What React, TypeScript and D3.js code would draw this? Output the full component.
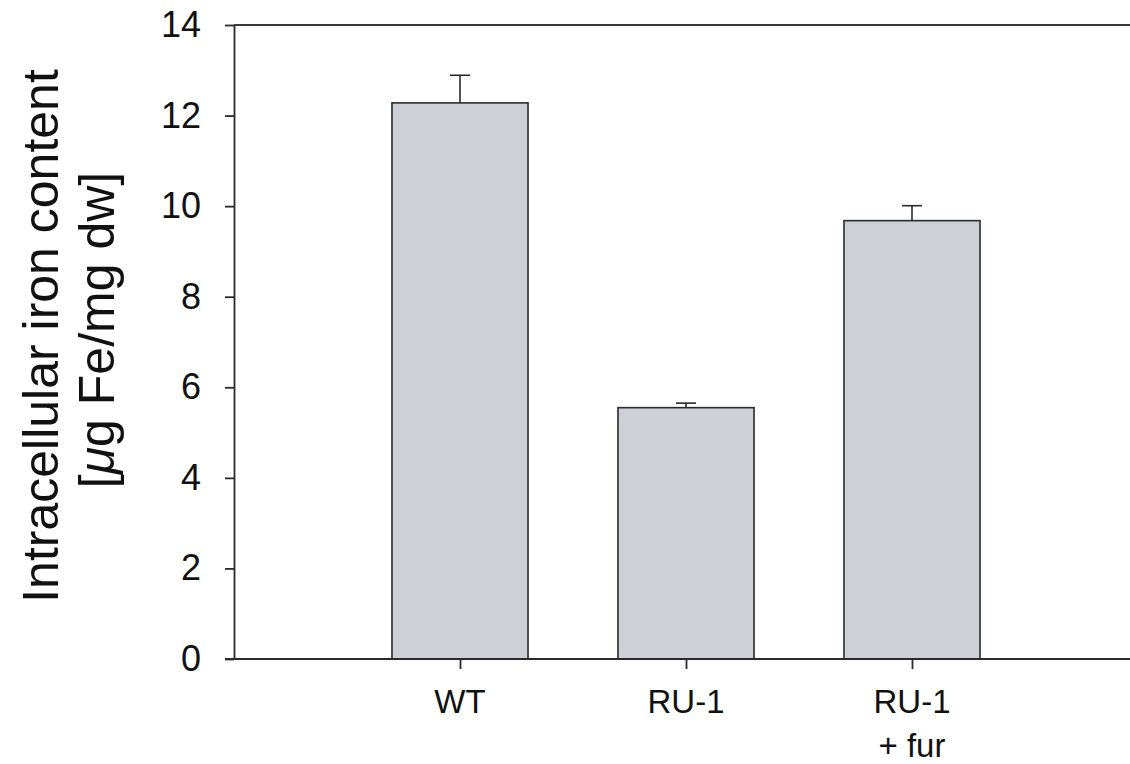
import React, { useEffect, useRef } from "react";
import * as d3 from "d3";

const categories = ["WT", "RU-1", "RU-1 + fur"];
const tickLabels = [["WT"], ["RU-1"], ["RU-1", "+ fur"]];
const values = [12.28, 5.55, 9.68];
const errors = [0.61, 0.1, 0.33];
const yTicks = [0, 2, 4, 6, 8, 10, 12, 14];

const font = "'Liberation Sans', Arial, Helvetica, sans-serif";

const App = () => {
  const svgRef = useRef<SVGSVGElement>(null);

  useEffect(() => {
    const svg = d3.select(svgRef.current);
    svg.selectAll("*").remove();

    const width = 1130, height = 764;
    const left = 234, right = 1138, top = 25, bottom = 659;

    const x = d3.scalePoint<string>()
      .domain(categories)
      .range([left, right])
      .padding(1);
    const barW = x.step() * 0.602;

    const y = d3.scaleLinear().domain([0, 14]).range([bottom, top]);

    const data = categories.map((c, i) => ({ c, v: values[i], e: errors[i], lab: tickLabels[i] }));

    // bars
    svg.append("g")
      .selectAll("rect")
      .data(data)
      .join("rect")
      .attr("x", d => x(d.c)! - barW / 2)
      .attr("y", d => y(d.v))
      .attr("width", barW)
      .attr("height", d => y(0) - y(d.v))
      .attr("fill", "#cdd0d4")
      .attr("stroke", "#2a2a2a")
      .attr("stroke-width", 1.6);

    // error bars (upper only)
    const eb = svg.append("g").attr("stroke", "#2a2a2a").attr("stroke-width", 1.6);
    eb.selectAll("line.w")
      .data(data)
      .join("line")
      .attr("class", "w")
      .attr("x1", d => x(d.c)!)
      .attr("x2", d => x(d.c)!)
      .attr("y1", d => y(d.v))
      .attr("y2", d => y(d.v + d.e));
    eb.selectAll("line.cap")
      .data(data)
      .join("line")
      .attr("class", "cap")
      .attr("x1", d => x(d.c)! - 10)
      .attr("x2", d => x(d.c)! + 10)
      .attr("y1", d => y(d.v + d.e))
      .attr("y2", d => y(d.v + d.e));

    // top frame line
    svg.append("line")
      .attr("x1", left).attr("x2", width)
      .attr("y1", y(14)).attr("y2", y(14))
      .attr("stroke", "#3a3a3a")
      .attr("stroke-width", 2.2);

    // y axis
    const gy = svg.append("g")
      .attr("transform", `translate(${left},0)`)
      .call(d3.axisLeft(y).tickValues(yTicks).tickSize(9).tickSizeOuter(0).tickPadding(24));
    gy.selectAll("path, line").attr("stroke", "#2a2a2a").attr("stroke-width", 1.8);
    gy.selectAll("text")
      .attr("font-family", font)
      .attr("font-size", 36)
      .attr("fill", "#111");

    // x axis
    const gx = svg.append("g")
      .attr("transform", `translate(0,${bottom})`)
      .call(d3.axisBottom(x).tickSize(10).tickSizeOuter(0).tickFormat(() => ""));
    gx.select(".domain").attr("d", `M${left - 9},0H${width}`);
    gx.selectAll("path, line").attr("stroke", "#2a2a2a").attr("stroke-width", 1.8);

    svg.append("g")
      .selectAll("text")
      .data(data)
      .join("text")
      .attr("text-anchor", "middle")
      .attr("font-family", font)
      .attr("font-size", 33)
      .attr("fill", "#111")
      .selectAll("tspan")
      .data(d => d.lab.map(l => ({ l, cx: x(d.c)! })))
      .join("tspan")
      .attr("x", d => d.cx)
      .attr("y", (d, i) => 713 + i * 44)
      .text(d => d.l);

    // y label
    const yl = svg.append("g")
      .attr("font-family", font)
      .attr("font-size", 50)
      .attr("fill", "#111")
      .attr("text-anchor", "middle");
    yl.append("text")
      .attr("transform", "translate(58,336) rotate(-90)")
      .text("Intracellular iron content");
    const t2 = yl.append("text")
      .attr("transform", "translate(114,330) rotate(-90)");
    t2.append("tspan").text("[");
    t2.append("tspan").attr("font-style", "italic").text("\u03bc");
    t2.append("tspan").text("g Fe/mg dw]");

    svg.attr("width", width).attr("height", height);
  }, []);

  return (
    <div style={{ position: "absolute", left: 0, top: 0 }}>
      <svg ref={svgRef} width={1130} height={764} style={{ display: "block", background: "#fff" }}></svg>
    </div>
  );
};

export default App;
